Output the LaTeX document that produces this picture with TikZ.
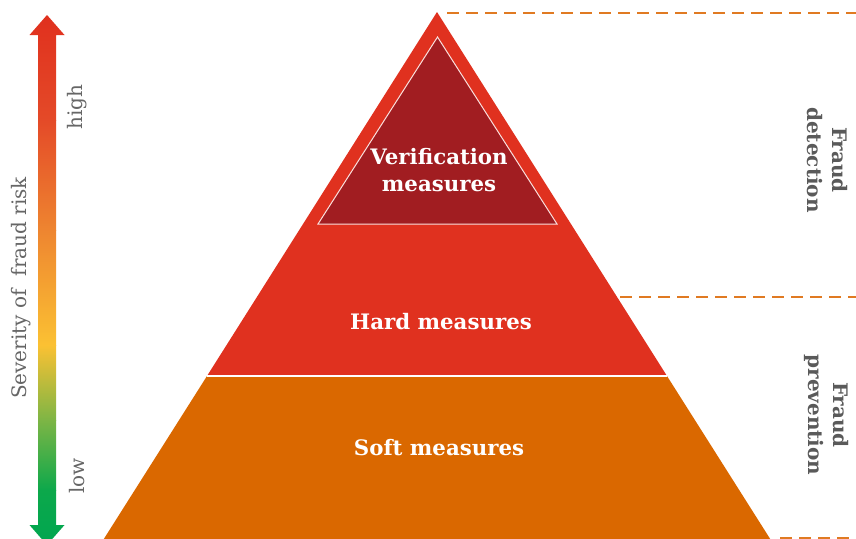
\documentclass[tikz,border=0pt]{standalone}
\usepackage{fontspec}
\setmainfont{DejaVu Serif}
\definecolor{pyrred}{HTML}{E0311F}
\definecolor{pyrdark}{HTML}{A11D21}
\definecolor{pyrorange}{HTML}{DA6800}
\definecolor{dashor}{HTML}{E07A22}
\definecolor{txtgray}{HTML}{5A5A5A}
\definecolor{ltgray}{HTML}{666666}
\definecolor{gA}{HTML}{E0301E}
\definecolor{gB}{HTML}{E44A28}
\definecolor{gC}{HTML}{EE8530}
\definecolor{gD}{HTML}{FBC133}
\definecolor{gE}{HTML}{7DB545}
\definecolor{gF}{HTML}{0CA84B}
\definecolor{gG}{HTML}{00A650}
\tikzset{
  layerlabel/.style={text=white, font=\bfseries\fontsize{21.3}{27}\selectfont, align=center, inner sep=0pt},
  sidelabel/.style={text=txtgray, font=\bfseries\fontsize{20}{25}\selectfont, align=center, rotate=-90, inner sep=0pt},
  scalelabel/.style={text=ltgray, font=\fontsize{20}{24}\selectfont, rotate=90, inner sep=0pt},
  divider/.style={draw=dashor, line width=2.7pt, dash pattern=on 12pt off 7pt},
}
\begin{document}
\begin{tikzpicture}[x=1pt,y=-1pt]
\useasboundingbox (0,0) rectangle (856,538);
% severity arrow with gradient
\begin{scope}
\clip (47,15) -- (64.5,35) -- (56,35) -- (56,525) -- (64.5,525) -- (47,545) -- (29.5,525) -- (38,525) -- (38,35) -- (29.5,35) -- cycle;
\shade[top color=gA, bottom color=gB] (25,14) rectangle (70,120.5);
\shade[top color=gB, bottom color=gC] (25,120) rectangle (70,230.5);
\shade[top color=gC, bottom color=gD] (25,230) rectangle (70,345.5);
\shade[top color=gD, bottom color=gE] (25,345) rectangle (70,420.5);
\shade[top color=gE, bottom color=gF] (25,420) rectangle (70,490.5);
\shade[top color=gF, bottom color=gG] (25,490) rectangle (70,546);
\end{scope}
\node[scalelabel] (sev) at (21,288) {Severity of\ \ fraud risk};
\node[scalelabel] (high) at (77,107) {high};
\node[scalelabel] (low) at (77,476) {low};
% pyramid
\fill[pyrorange] (207,376) -- (667,376) -- (774,545) -- (100,545) -- cycle;
\fill[pyrred] (437,12) -- (667,376) -- (207,376) -- cycle;
\draw[white, line width=1.5pt] (207,376) -- (667,376);
\filldraw[fill=pyrdark, draw=white!85!pyrred, line width=1pt] (437.5,37) -- (557,224) -- (318,224) -- cycle;
\node[layerlabel] (ver) at (439,170) {Verification\\measures};
\node[layerlabel] (hard) at (441,322) {Hard measures};
\node[layerlabel] (soft) at (439,448) {Soft measures};
% dividers
\coordinate (d1a) at (447,13);
\coordinate (d1b) at (856,13);
\coordinate (d2a) at (620,297);
\coordinate (d2b) at (856,297);
\coordinate (d3a) at (780,538);
\coordinate (d3b) at (856,538);
\draw[divider] (d1a) -- (d1b);
\draw[divider] (d2a) -- (d2b);
\draw[divider] (d3a) -- (d3b);
\node[sidelabel] (det) at (827,160) {Fraud\\detection};
\node[sidelabel] (prev) at (827,415) {Fraud\\prevention};
\end{tikzpicture}
\end{document}
